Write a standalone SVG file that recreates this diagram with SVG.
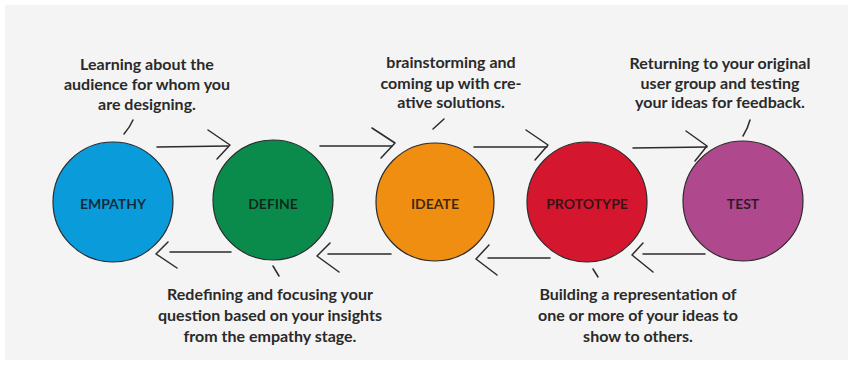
<svg xmlns="http://www.w3.org/2000/svg" width="854" height="385" viewBox="0 0 854 385">
<style>
.stage{stroke:#2b2b2b;stroke-width:1.2}
.lbl{font-family:Lato,"Open Sans",sans-serif;font-weight:700;font-size:14px;fill:#111;fill-opacity:0.82;text-anchor:middle}
.note{font-family:Lato,"Open Sans",sans-serif;font-weight:700;font-size:16px;fill:#2a2a2a;text-anchor:middle}
.con{fill:none;stroke:#2b2b2b;stroke-width:1.5;stroke-linecap:round;stroke-linejoin:round}
.tick{fill:none;stroke:#2b2b2b;stroke-width:1.5;stroke-linecap:round}
</style>
<rect x="0" y="0" width="854" height="385" fill="#ffffff"/>
<rect x="5" y="5" width="843" height="355" fill="#f4f4f4"/>

<g id="empathy">
<circle class="stage" cx="113" cy="202" r="60" fill="#0a9bdb"/>
<text class="lbl" x="113" y="209">EMPATHY</text>
</g>
<g id="define">
<circle class="stage" cx="273" cy="200" r="60" fill="#0b8b4b"/>
<text class="lbl" x="273" y="209">DEFINE</text>
</g>
<g id="ideate">
<circle class="stage" cx="435" cy="202" r="59" fill="#ef8e10"/>
<text class="lbl" x="435" y="209">IDEATE</text>
</g>
<g id="prototype">
<circle class="stage" cx="587" cy="202" r="60" fill="#d4172e"/>
<text class="lbl" x="587" y="209">PROTOTYPE</text>
</g>
<g id="test">
<circle class="stage" cx="743" cy="201" r="60" fill="#b0488d"/>
<text class="lbl" x="743" y="209">TEST</text>
</g>

<g id="note-empathy">
<text class="note" x="147" y="70">Learning about the</text>
<text class="note" x="147" y="90">audience for whom you</text>
<text class="note" x="147" y="110">are designing.</text>
</g>
<g id="note-ideate">
<text class="note" x="451" y="68">brainstorming and</text>
<text class="note" x="451" y="89">coming up with cre-</text>
<text class="note" x="451" y="108">ative solutions.</text>
</g>
<g id="note-test">
<text class="note" x="720" y="69">Returning to your original</text>
<text class="note" x="720" y="89">user group and testing</text>
<text class="note" x="720" y="108">your ideas for feedback.</text>
</g>
<g id="note-define">
<text class="note" x="270" y="300">Redefining and focusing your</text>
<text class="note" x="270" y="321">question based on your insights</text>
<text class="note" x="270" y="342">from the empathy stage.</text>
</g>
<g id="note-prototype">
<text class="note" x="638" y="300">Building a representation of</text>
<text class="note" x="638" y="321">one or more of your ideas to</text>
<text class="note" x="638" y="342">show to others.</text>
</g>

<g id="connectors">
<path class="con" d="M157 147 L228 146"/>
<path class="con" d="M208 130 L230 145 L217 159"/>
<path class="con" d="M320 146 L392 146"/>
<path class="con" d="M372 128 L395 143 L381 158"/>
<path class="con" d="M474 147 L547 147"/>
<path class="con" d="M526 130 L548 145 L535 160"/>
<path class="con" d="M633 148 L707 147"/>
<path class="con" d="M686 131 L707 146 L695 161"/>
<path class="con" d="M231 252 L170 252"/>
<path class="con" d="M168 242 L156 254 L177 268"/>
<path class="con" d="M391 254 L328 254"/>
<path class="con" d="M330 243 L317 256 L339 272"/>
<path class="con" d="M550 258 L488 258"/>
<path class="con" d="M489 245 L476 259 L497 275"/>
<path class="con" d="M705 254 L643 254"/>
<path class="con" d="M643 243 L632 255 L653 272"/>
<path class="tick" d="M124 134 Q130 127 133 120"/>
<path class="tick" d="M433 129 L444 119"/>
<path class="tick" d="M743 136 Q748 128 750 120"/>
<path class="tick" d="M273 266 L279 276"/>
<path class="tick" d="M593 269 L598 277"/>
</g>
</svg>
